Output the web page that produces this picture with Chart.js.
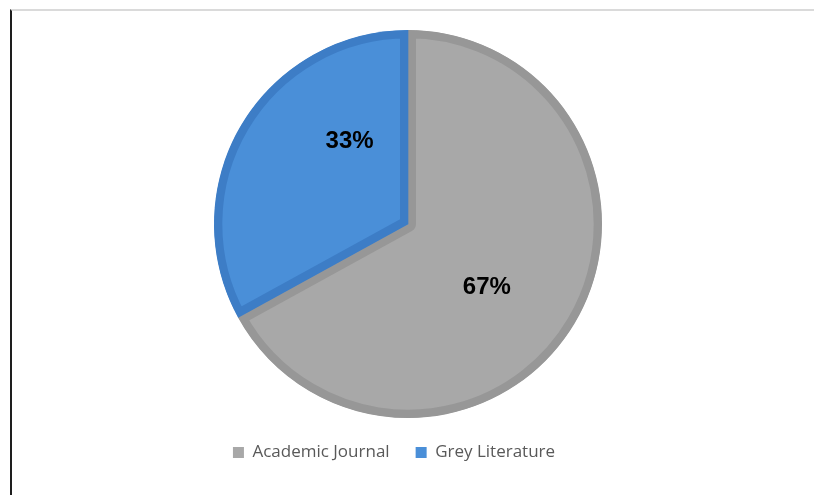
<!DOCTYPE html>
<html>
<head>
<meta charset="utf-8">
<script src="https://cdn.jsdelivr.net/npm/chart.js@4"></script>
<style>
  html, body { margin: 0; padding: 0; background: #fff; }
  body { width: 814px; height: 495px; position: relative; overflow: hidden; }
  .frame {
    position: absolute; left: 10px; top: 9px; right: 0; bottom: 0;
    border-left: 2px solid #1e1e1e; border-top: 2px solid #dadada;
  }
  .box { position: absolute; left: 12px; top: 11px; width: 792px; height: 484px; }
</style>
</head>
<body>
<div class="frame"></div>
<div class="box"><canvas id="pieChart"></canvas></div>
<script>
const labels = ["Academic Journal", "Grey Literature"];
const shares = [67, 33];
const fills   = ["#a8a8a8", "#4a8fd8"];
const borders = ["#979797", "#3d7dc6"];

// bold percentage labels placed inside each slice
const sliceLabels = {
  id: "sliceLabels",
  afterDatasetsDraw(chart, args, opts) {
    const ctx = chart.ctx;
    const meta = chart.getDatasetMeta(0);
    ctx.save();
    ctx.font = "bold 24px 'Liberation Sans', Arial, sans-serif";
    ctx.fillStyle = "#000";
    ctx.textAlign = "center";
    ctx.textBaseline = "middle";
    meta.data.forEach((arc, i) => {
      const p = arc.getProps(["x", "y", "startAngle", "endAngle", "outerRadius"], true);
      const mid = (p.startAngle + p.endAngle) / 2 + (opts.shift[i] || 0) * Math.PI / 180;
      const r = p.outerRadius * opts.dist;
      ctx.fillText(shares[i] + "%", p.x + Math.cos(mid) * r, p.y + Math.sin(mid) * r);
    });
    ctx.restore();
  }
};

// legend sits a little left of the pie's centre line
const legendShift = {
  id: "legendShift",
  afterLayout(chart, args, opts) {
    chart.legend.left -= opts.dx;
    chart.legend.right -= opts.dx;
  }
};

new Chart(document.getElementById("pieChart"), {
  type: "pie",
  data: {
    labels,
    datasets: [{
      data: shares,
      backgroundColor: fills,
      borderColor: borders,
      borderWidth: 8,
      borderAlign: "inner"
    }]
  },
  options: {
    responsive: true,
    maintainAspectRatio: false,
    animation: false,
    layout: { padding: { top: 19, bottom: 24 } },
    plugins: {
      tooltip: { enabled: false },
      legend: {
        position: "bottom",
        labels: {
          boxWidth: 11,
          boxHeight: 11,
          padding: 26,
          color: "#595959",
          font: { family: "'Open Sans', sans-serif", size: 17 },
          generateLabels(chart) {
            return chart.data.labels.map((text, i) => ({
              text,
              fillStyle: fills[i],
              strokeStyle: fills[i],
              lineWidth: 0,
              fontColor: "#595959",
              index: i
            }));
          }
        }
      },
      legendShift: { dx: 14 },
      sliceLabels: { dist: 0.52, shift: [8, 24] }
    }
  },
  plugins: [sliceLabels, legendShift]
});
</script>
</body>
</html>
